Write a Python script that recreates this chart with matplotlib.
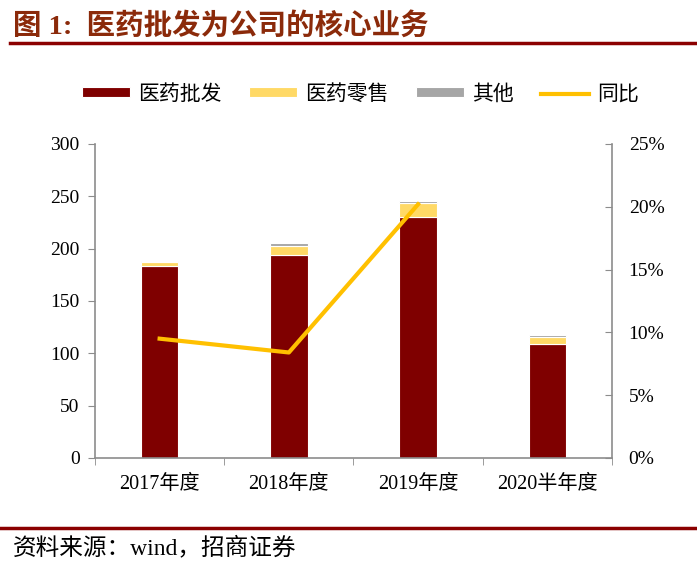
import matplotlib.pyplot as plt
import numpy as np
from matplotlib.lines import Line2D

plt.rcParams['font.family'] = ['Liberation Serif', 'Noto Sans CJK SC']
plt.rcParams['axes.unicode_minus'] = False

# Datos
categorias = ['2017年度', '2018年度', '2019年度', '2020半年度']
pifa = [183, 194, 230, 109]      # 医药批发
lingshou = [4, 9, 14, 7]         # 医药零售
otros = [1.5, 2, 2, 1.5]         # 其他
tongbi = [9.5, 8.4, 20.2]        # 同比 (%)

c_pifa = '#7F0000'
c_ling = '#FFD966'
c_otro = '#A6A6A6'
c_linea = '#FFC000'
c_gris = '#8C8C8C'

fig = plt.figure(figsize=(6.97, 5.75), dpi=100)
ax = fig.add_axes([0.1363, 0.2035, 0.7417, 0.5461])

x = np.arange(len(categorias))
w = 0.29
base2 = np.array(pifa) + np.array(lingshou)
ax.bar(x, pifa, w, color=c_pifa, edgecolor='white', linewidth=0.8, label='医药批发')
ax.bar(x, lingshou, w, bottom=pifa, color=c_ling, edgecolor='white', linewidth=0.8, label='医药零售')
ax.bar(x, otros, w, bottom=base2, color=c_otro, edgecolor='white', linewidth=0.8, label='其他')

ax.set_xlim(-0.5, len(categorias) - 0.5)
ax.set_ylim(0, 300)
ax.set_yticks(range(0, 301, 50))
ax.set_xticks(x)
ax.set_xticklabels(categorias, fontsize=14.5)
ax.set_xticks(np.arange(-0.5, len(categorias), 1), minor=True)
ax.tick_params(axis='x', which='major', length=0, pad=12)
ax.tick_params(axis='x', which='minor', length=5, color=c_gris, direction='out')
ax.tick_params(axis='y', labelsize=14, length=5, color=c_gris, pad=6)

for s in ['top', 'right']:
    ax.spines[s].set_visible(False)
for s in ['left', 'bottom']:
    ax.spines[s].set_color(c_gris)
    ax.spines[s].set_linewidth(1.2)

ax2 = ax.twinx()
ax2.plot(x[:len(tongbi)], tongbi, color=c_linea, linewidth=3)
ax2.set_ylim(0, 25)
ax2.set_yticks(range(0, 26, 5))
ax2.set_yticklabels([f'{v}%' for v in range(0, 26, 5)])
ax2.tick_params(axis='y', labelsize=14, length=5, color=c_gris, direction='in', pad=12)
for s in ['top', 'left', 'bottom']:
    ax2.spines[s].set_visible(False)
ax2.spines['right'].set_color(c_gris)
ax2.spines['right'].set_linewidth(1.2)

handles, labels = ax.get_legend_handles_labels()
handles.append(Line2D([0], [0], color=c_linea, linewidth=3))
labels.append('同比')
fig.legend(handles, labels, ncol=4, loc='center', bbox_to_anchor=(0.517, 0.835),
           frameon=False, fontsize=15, handlelength=2.3, handleheight=0.35,
           columnspacing=1.3, handletextpad=0.4)

# Título y pie
fig.text(0.018, 0.955, '图 1:  医药批发为公司的核心业务', fontsize=20.5, fontweight='bold',
         color='#8B2A0A', va='center', ha='left')
fig.add_artist(Line2D([0.015, 0.998], [0.925, 0.925], color='#8B0000', linewidth=2.5))
fig.add_artist(Line2D([0.0, 1.0], [0.082, 0.082], color='#8B0000', linewidth=2.5))
fig.text(0.018, 0.047, '资料来源：wind，招商证券', fontsize=17, va='center', ha='left')

plt.savefig('out.png', dpi=100)
